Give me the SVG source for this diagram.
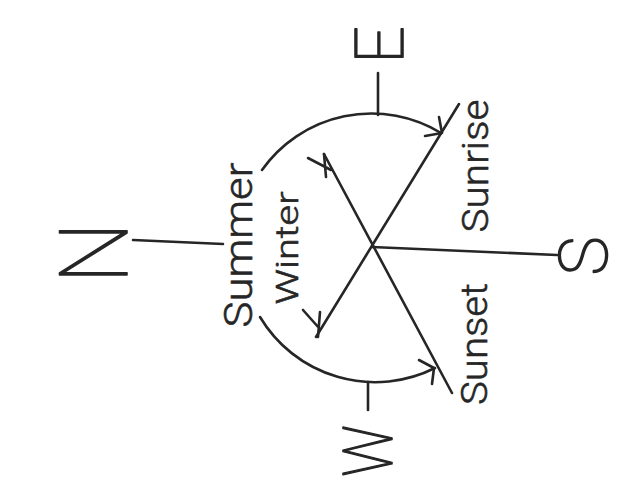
<svg xmlns="http://www.w3.org/2000/svg" width="638" height="489" viewBox="0 0 638 489">
  <style>
    .ln { fill: none; stroke: #262626; stroke-width: 2.6; stroke-linecap: round; stroke-linejoin: round; }
    .lbl { font-family: Roboto, "DejaVu Sans", sans-serif; font-weight: 300; fill: #262626; stroke: #262626; stroke-width: 0.6; text-anchor: middle; }
    .big { font-family: Roboto, "Lato", "Liberation Sans", sans-serif; font-weight: 100; fill: #262626; stroke: #262626; stroke-width: 1.6; stroke-linejoin: round; text-anchor: middle; }
  </style>
  <rect width="638" height="489" fill="#ffffff"/>

  <g id="connectors">
    <!-- N tick and S line -->
    <path class="ln" d="M133 240 L223 244"/>
    <path class="ln" d="M372 247 L557 255"/>
    <!-- E and W ticks -->
    <path class="ln" d="M378 73 L378 115"/>
    <path class="ln" d="M368 382 L368 410"/>
    <!-- Sunrise / Winter line -->
    <path class="ln" d="M316 337 L459 104"/>
    <!-- Sunset / Winter line -->
    <path class="ln" d="M324 154 L452 393"/>
    <!-- Summer arcs -->
    <path class="ln" d="M262 170 A134 134 0 0 1 441 133"/>
    <path class="ln" d="M260 317 A134 134 0 0 0 435 368"/>
    <!-- arrowheads on arcs -->
    <path class="ln" d="M425 136 L442 133 L439 117"/>
    <path class="ln" d="M419 360 L434 368 L432 384"/>
    <!-- Winter arrowheads -->
    <path class="ln" d="M324 154 L326 177 M308 158 L331 170"/>
    <path class="ln" d="M320 312 L318 337 M303 310 L319 328"/>
  </g>

  <g id="node-N"><text class="big" font-size="94" transform="translate(127 253) rotate(-90) scale(0.92 1)">N</text></g>
  <g id="node-E"><text class="big" font-size="66" transform="translate(403 45) rotate(-90)">E</text></g>
  <g id="node-W"><text class="big" font-size="69" transform="translate(392 451) rotate(-90) scale(0.82 1)">W</text></g>
  <g id="node-S"><text class="big" font-size="66" transform="translate(607 256) rotate(-90)">S</text></g>

  <g id="label-summer"><text class="lbl" font-size="39" transform="translate(252 245) rotate(-90)" textLength="165" lengthAdjust="spacingAndGlyphs">Summer</text></g>
  <g id="label-winter"><text class="lbl" font-size="32" transform="translate(298 248) rotate(-90)" textLength="113" lengthAdjust="spacingAndGlyphs">Winter</text></g>
  <g id="label-sunrise"><text class="lbl" font-size="37" transform="translate(488 166) rotate(-90)" textLength="133" lengthAdjust="spacingAndGlyphs">Sunrise</text></g>
  <g id="label-sunset"><text class="lbl" font-size="37" transform="translate(487 344) rotate(-90)" textLength="122" lengthAdjust="spacingAndGlyphs">Sunset</text></g>
</svg>
